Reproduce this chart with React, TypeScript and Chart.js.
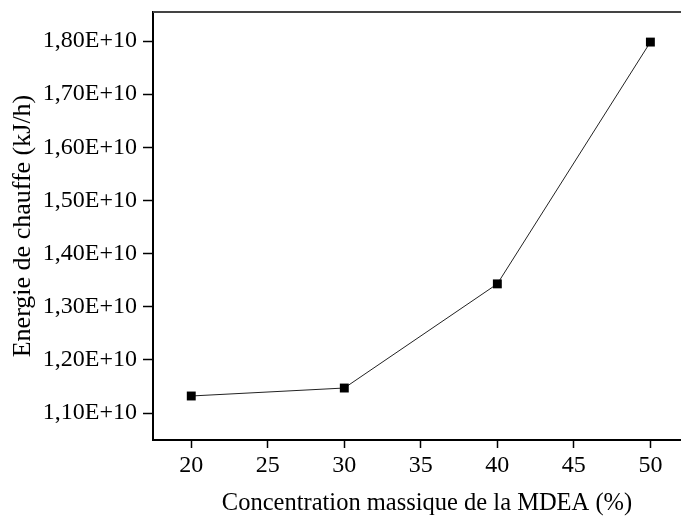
import React, { useEffect, useRef } from "react";
import { Chart, registerables } from "chart.js";

Chart.register(...registerables);

const concentrations = [20, 30, 40, 50];
const energies = [1.132e10, 1.147e10, 1.343e10, 1.798e10];
const yTickValues = [1.1e10, 1.2e10, 1.3e10, 1.4e10, 1.5e10, 1.6e10, 1.7e10, 1.8e10];
const xTickValues = [20, 25, 30, 35, 40, 45, 50];
const xTitle = "Concentration massique de la MDEA (%)";
const yTitle = "Energie de chauffe (kJ/h)";

const FONT = "'Liberation Serif', 'Times New Roman', serif";

const topBorder = {
  id: "topBorder",
  afterDraw(chart: any) {
    const { ctx, chartArea } = chart;
    ctx.save();
    ctx.strokeStyle = "#444";
    ctx.lineWidth = 2;
    ctx.beginPath();
    ctx.moveTo(chartArea.left, chartArea.top);
    ctx.lineTo(chartArea.right + 2, chartArea.top);
    ctx.stroke();
    ctx.restore();
  },
};

const xTitlePlugin = {
  id: "xTitlePlugin",
  afterDraw(chart: any) {
    const { ctx, chartArea } = chart;
    ctx.save();
    ctx.fillStyle = "#000";
    ctx.font = `24.5px ${FONT}`;
    ctx.textAlign = "center";
    ctx.textBaseline = "alphabetic";
    ctx.fillText(xTitle, (chartArea.left + chartArea.right) / 2 + 10, chartArea.bottom + 70);
    ctx.restore();
  },
};

export default function App() {
  const ref = useRef<HTMLCanvasElement>(null);
  useEffect(() => {
    if (!ref.current) return;
    const chart = new Chart(ref.current, {
      type: "line",
      data: {
        datasets: [
          {
            data: concentrations.map((x, i) => ({ x, y: energies[i] })),
            borderColor: "#222",
            borderWidth: 1,
            pointStyle: "rect",
            pointRadius: 6.3,
            pointBackgroundColor: "#000",
            pointBorderColor: "#000",
            pointBorderWidth: 0,
            tension: 0,
          },
        ],
      },
      options: {
        animation: false,
        responsive: false,
        layout: { autoPadding: false, padding: { top: 12, right: 0, left: 0, bottom: 0 } },
        plugins: { legend: { display: false }, tooltip: { enabled: false } },
        scales: {
          x: {
            type: "linear",
            min: 17.5,
            max: 52,
            afterBuildTicks: (s: any) => {
              s.ticks = xTickValues.map((v) => ({ value: v }));
            },
            afterFit: (s: any) => {
              s.height = 76;
              s.paddingLeft = 0;
              s.paddingRight = 0;
            },
            grid: { drawOnChartArea: false, tickLength: 8, tickColor: "#000", tickWidth: 1.5 },
            border: { color: "#000", width: 2 },
            ticks: { color: "#000", font: { family: FONT, size: 24 }, padding: 3, maxRotation: 0 },
            title: { display: false, text: xTitle },
          },
          y: {
            type: "linear",
            min: 1.0492e10,
            max: 1.8546e10,
            afterBuildTicks: (s: any) => {
              s.ticks = yTickValues.map((v) => ({ value: v }));
            },
            afterFit: (s: any) => {
              s.width = 153;
              s.paddingTop = 0;
              s.paddingBottom = 0;
            },
            grid: { drawOnChartArea: false, tickLength: 10, tickColor: "#000", tickWidth: 1.5 },
            border: { color: "#000", width: 2 },
            ticks: {
              color: "#000",
              font: { family: FONT, size: 24 },
              padding: 6,
              callback: (v: any) => (Number(v) / 1e10).toFixed(2).replace(".", ",") + "E+10",
            },
            title: { display: true, text: yTitle, color: "#000", font: { family: FONT, size: 26 }, padding: { bottom: 0, top: 8 } },
          },
        },
      },
      plugins: [topBorder, xTitlePlugin],
    });
    return () => chart.destroy();
  }, []);
  return (
    <div style={{ position: "fixed", left: 0, top: 0, width: 681, height: 516, background: "#fff" }}>
      <canvas ref={ref} width={681} height={516} />
    </div>
  );
}
